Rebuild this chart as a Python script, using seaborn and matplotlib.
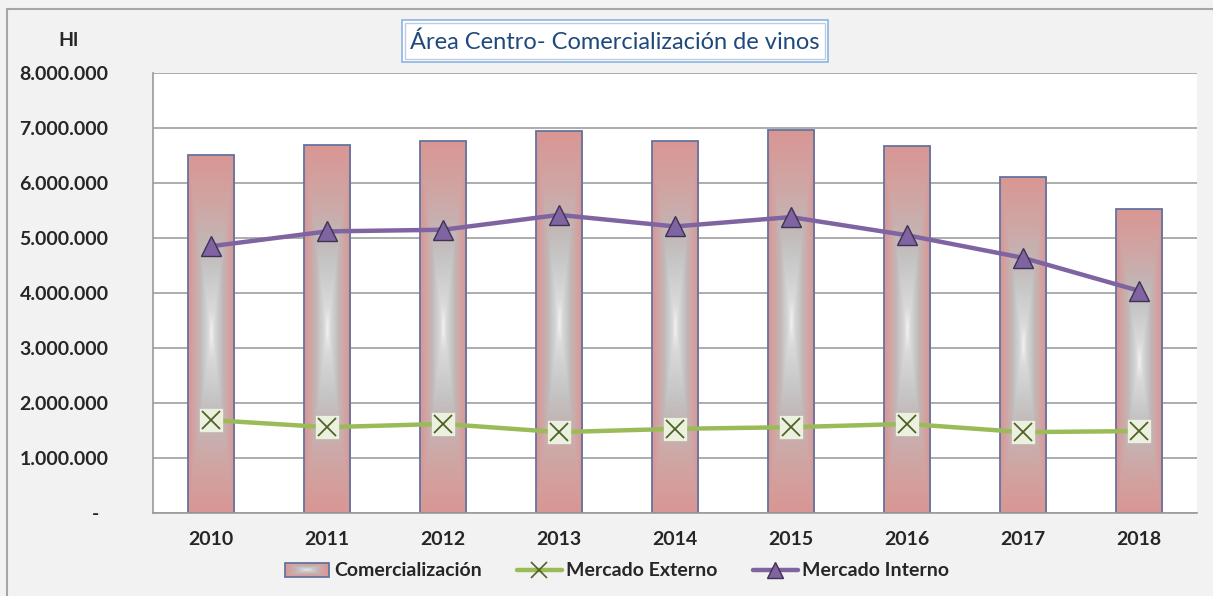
import numpy as np
import pandas as pd
import matplotlib
matplotlib.use("Agg")
import matplotlib.pyplot as plt
import seaborn as sns
from matplotlib.colors import LinearSegmentedColormap
from matplotlib.patches import Rectangle
from matplotlib.lines import Line2D
from matplotlib.legend_handler import HandlerBase

# ---------------- data ----------------
years = ["2010", "2011", "2012", "2013", "2014", "2015", "2016", "2017", "2018"]
comercializacion = [6510000, 6690000, 6760000, 6945000, 6760000, 6960000, 6670000, 6110000, 5530000]
mercado_externo = [1690000, 1560000, 1620000, 1470000, 1530000, 1560000, 1620000, 1470000, 1490000]
mercado_interno = [4850000, 5120000, 5150000, 5420000, 5210000, 5380000, 5050000, 4640000, 4040000]
y_ticks = [0, 1000000, 2000000, 3000000, 4000000, 5000000, 6000000, 7000000, 8000000]
y_labels = ["-  ", "1.000.000", "2.000.000", "3.000.000", "4.000.000",
            "5.000.000", "6.000.000", "7.000.000", "8.000.000"]
title = "Área Centro- Comercialización de vinos"
unit_label = "Hl"
series_names = ["Comercialización", "Mercado Externo", "Mercado Interno"]

df = pd.DataFrame({"year": years, "com": comercializacion,
                   "ext": mercado_externo, "int": mercado_interno})

# ---------------- style ----------------
sns.set_style("white")
plt.rcParams["font.family"] = ["Lato", "DejaVu Sans"]

W, H = 1213, 596
fig = plt.figure(figsize=(W / 100, H / 100), dpi=100)
fig.patch.set_facecolor("#f2f2f2")
ax = fig.add_axes([153 / W, 1 - 513 / H, 1044 / W, 440 / H])
ax.set_facecolor("white")

grad_cmap = LinearSegmentedColormap.from_list(
    "bargrad",
    [(0.0, "#f2f2f2"), (0.12, "#dadada"), (0.35, "#c6c6c6"), (0.5, "#c2b6b6"),
     (0.72, "#cfa6a4"), (1.0, "#d99694")])

# bars
sns.barplot(data=df, x="year", y="com", ax=ax, width=0.4, color="#d99694",
            edgecolor="#6474a0", linewidth=1.3, zorder=2)

bars = list(ax.patches)
for p in bars:
    x0, y0 = p.get_x(), p.get_y()
    w, h = p.get_width(), p.get_height()
    nx, ny = 60, 300
    u = np.abs(np.linspace(-1, 1, nx))[None, :]
    v = np.abs(np.linspace(-1, 1, ny))[:, None]
    t = np.maximum(u, v)
    img = grad_cmap(t)
    im = ax.imshow(img, extent=[x0, x0 + w, y0, y0 + h], aspect="auto",
                   origin="lower", zorder=2.1, interpolation="bilinear")
    im.set_clip_path(p)
    p.set_facecolor("none")
    p.set_zorder(2.2)

# lines
sns.pointplot(data=df, x="year", y="ext", ax=ax, color="#9bbb59",
              markers="s", errorbar=None, linewidth=3.2, markersize=14,
              markerfacecolor="#ebf1de", markeredgecolor="#ebf1de")
sns.pointplot(data=df, x="year", y="ext", ax=ax, color="#4f6228",
              markers="x", linestyles="none", errorbar=None, markersize=13,
              markeredgewidth=1.3)
sns.pointplot(data=df, x="year", y="int", ax=ax, color="#8064a2",
              markers="^", errorbar=None, linewidth=3.2, markersize=14,
              markerfacecolor="#8064a2", markeredgecolor="#3f3151",
              markeredgewidth=1.0)
for ln in ax.lines:
    ln.set_zorder(3)

# axes
ax.set_xlim(-0.5, len(years) - 0.5)
ax.set_ylim(0, 8000000)
ax.set_yticks(y_ticks, y_labels)
ax.set_xlabel("")
ax.set_ylabel("")
ax.yaxis.grid(True, color="#969696", linewidth=1.1, zorder=0)
ax.set_axisbelow(True)
for s in ["top", "right"]:
    ax.spines[s].set_visible(False)
for s in ["left", "bottom"]:
    ax.spines[s].set_color("#9a9a9a")
    ax.spines[s].set_linewidth(1.2)

ax.set_xticks(np.arange(-0.5, len(years), 1), minor=True)
ax.tick_params(axis="x", which="major", length=0, pad=13, labelsize=14)
ax.tick_params(axis="x", which="minor", length=5, width=1.2, color="#9a9a9a")
ax.tick_params(axis="y", which="major", length=5, width=1.2, color="#9a9a9a",
               pad=27, labelsize=14)
for lab in ax.get_xticklabels() + ax.get_yticklabels():
    lab.set_fontweight("bold")

# unit label
fig.text(68 / W, 1 - 40 / H, unit_label, ha="center", va="center",
         fontsize=14, fontweight="bold")

# title box (double border)
fig.add_artist(Rectangle((402 / W, 1 - 62 / H), 426 / W, 42 / H,
                         transform=fig.transFigure, facecolor="white",
                         edgecolor="#8db3e2", linewidth=1.2))
fig.add_artist(Rectangle((405 / W, 1 - 59 / H), 420 / W, 36 / H,
                         transform=fig.transFigure, facecolor="none",
                         edgecolor="#b9cde5", linewidth=1.0))
fig.text(615 / W, 1 - 42 / H, title, ha="center", va="center",
         fontsize=17, color="#1f497d")

# outer chart border
fig.add_artist(Rectangle((7 / W, -0.1), 1.2, 1.1 - 9 / H,
                         transform=fig.transFigure, facecolor="none",
                         edgecolor="#a6a6a6", linewidth=1.5))


# legend
class GradHandler(HandlerBase):
    def create_artists(self, legend, orig_handle, xdescent, ydescent,
                       width, height, fontsize, trans):
        arts = []
        n = 14
        for i in range(n):
            s = 1 - i / n
            rw, rh = width * s, height * s
            r = Rectangle((-xdescent + (width - rw) / 2, -ydescent + (height - rh) / 2),
                          rw, rh, facecolor=grad_cmap(s), edgecolor="none",
                          transform=trans)
            arts.append(r)
        arts.append(Rectangle((-xdescent, -ydescent), width, height,
                              facecolor="none", edgecolor="#6474a0",
                              linewidth=1.3, transform=trans))
        return arts


h_bar = Rectangle((0, 0), 1, 1)
h_ext = Line2D([], [], color="#9bbb59", linewidth=3.2, marker="x",
               markersize=11, markeredgecolor="#4f6228", markeredgewidth=1.2)
h_int = Line2D([], [], color="#8064a2", linewidth=3.2, marker="^",
               markersize=12, markerfacecolor="#8064a2",
               markeredgecolor="#3f3151", markeredgewidth=1.0)
leg = fig.legend([h_bar, h_ext, h_int], series_names,
                 handler_map={Rectangle: GradHandler()},
                 loc="center", bbox_to_anchor=(617 / W, 1 - 571 / H),
                 ncol=3, frameon=False, prop={"weight": "bold", "size": 14},
                 handlelength=2.3, handleheight=0.75, handletextpad=0.25,
                 columnspacing=1.8)

fig.savefig("out.png", dpi=100, facecolor=fig.get_facecolor())
